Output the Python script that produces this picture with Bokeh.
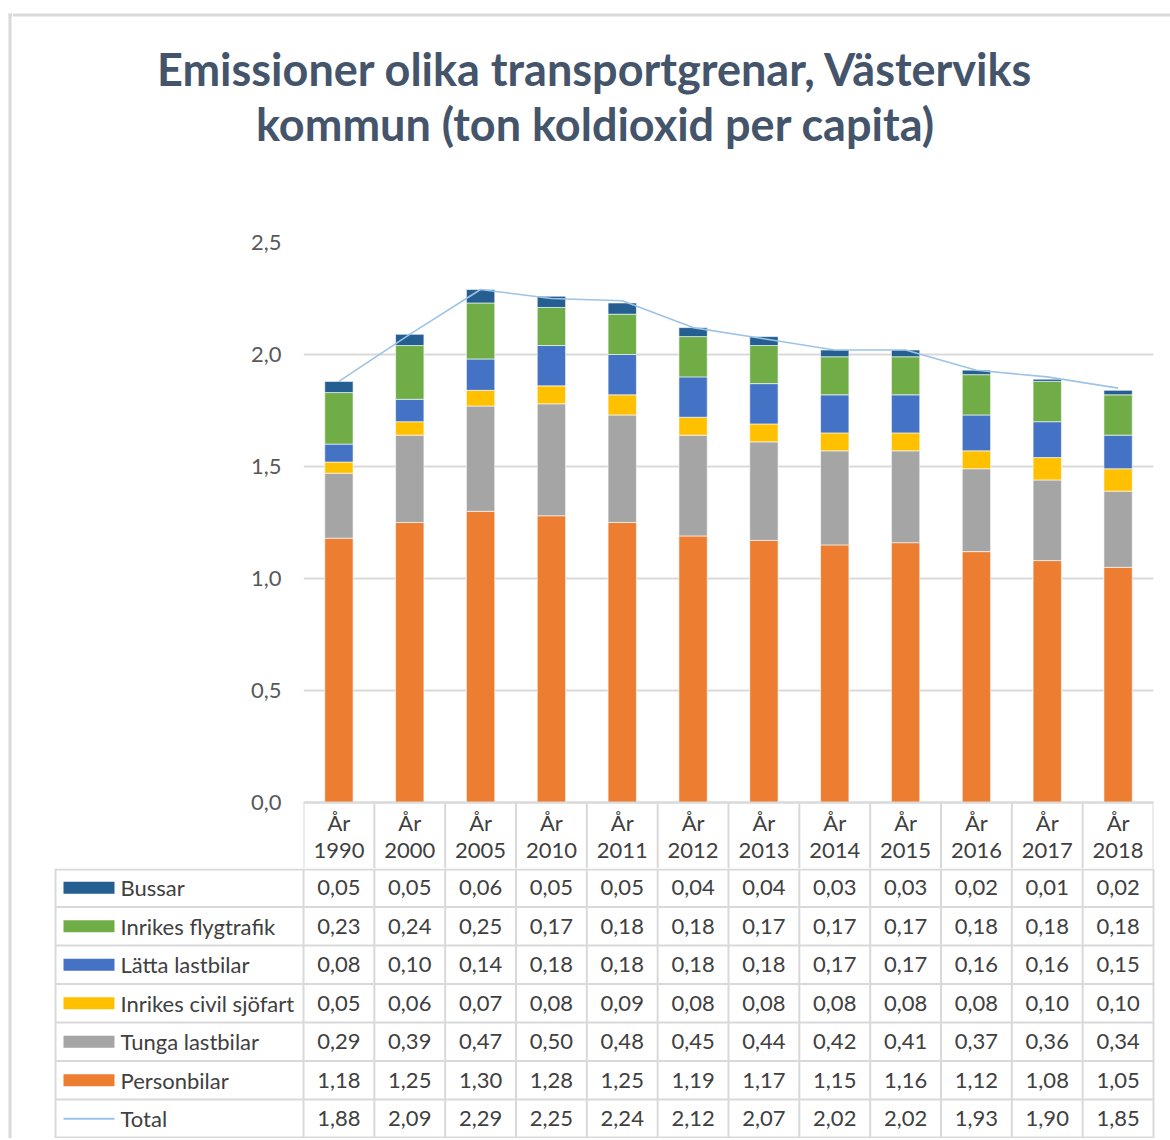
from bokeh.plotting import figure
from bokeh.models import ColumnDataSource, Range1d, FixedTicker, CustomJSTickFormatter
from bokeh.layouts import column, row
from bokeh.embed import file_html
from bokeh.resources import INLINE
from bokeh.core.properties import value

# ---------------- data ----------------
years = ["1990", "2000", "2005", "2010", "2011", "2012", "2013", "2014", "2015", "2016", "2017", "2018"]
bussar = [0.05, 0.05, 0.06, 0.05, 0.05, 0.04, 0.04, 0.03, 0.03, 0.02, 0.01, 0.02]
flygtrafik = [0.23, 0.24, 0.25, 0.17, 0.18, 0.18, 0.17, 0.17, 0.17, 0.18, 0.18, 0.18]
latta_lastbilar = [0.08, 0.10, 0.14, 0.18, 0.18, 0.18, 0.18, 0.17, 0.17, 0.16, 0.16, 0.15]
sjofart = [0.05, 0.06, 0.07, 0.08, 0.09, 0.08, 0.08, 0.08, 0.08, 0.08, 0.10, 0.10]
tunga_lastbilar = [0.29, 0.39, 0.47, 0.50, 0.48, 0.45, 0.44, 0.42, 0.41, 0.37, 0.36, 0.34]
personbilar = [1.18, 1.25, 1.30, 1.28, 1.25, 1.19, 1.17, 1.15, 1.16, 1.12, 1.08, 1.05]
total = [1.88, 2.09, 2.29, 2.25, 2.24, 2.12, 2.07, 2.02, 2.02, 1.93, 1.90, 1.85]

stack_names = ["Personbilar", "Tunga lastbilar", "Inrikes civil sjöfart", "Lätta lastbilar",
               "Inrikes flygtrafik", "Bussar"]
stack_values = [personbilar, tunga_lastbilar, sjofart, latta_lastbilar, flygtrafik, bussar]
stack_colors = ["#ed7d31", "#a5a5a5", "#ffc000", "#4472c4", "#70ad47", "#255e91"]
total_name = "Total"
total_color = "#9dc3e6"
y_ticks = [0.0, 0.5, 1.0, 1.5, 2.0, 2.5]
y_max = 2.5
title_lines = ["Emissioner olika transportgrenar, Västerviks", "kommun (ton koldioxid per capita)"]

# ---------------- layout constants (page px) ----------------
FONT = "Lato"
PAGE_W = 1170
STRIP = 12                  # left strip carrying the chart-area border
W = PAGE_W - STRIP          # width of the main column
PLOT_L = 303                # page x of plot area left
PLOT_R = 1153               # page x of plot area right
n = len(years)
ppu = (PLOT_R - PLOT_L) / n
xs = [i + 0.5 for i in range(n)]
grid_col = "#d9d9d9"
border_col = "#d9d9d9"
text_col = "#404040"

H1 = 226                    # title block
TOP = 16
PLOT_H = 560
HEADER = 66
H2 = TOP + PLOT_H + HEADER  # chart + header row
ROW = 38.5
NROWS = 7
H3 = 270
TOTAL_H = H1 + H2 + H3


def cx(px):
    return (px - PLOT_L) / ppu


# ---------------- left border strip ----------------
ps = figure(width=STRIP, height=TOTAL_H, x_range=Range1d(0, STRIP), y_range=Range1d(TOTAL_H, 0),
            x_axis_location=None, y_axis_location=None, toolbar_location=None,
            output_backend="svg", min_border=0, outline_line_color=None, frame_align=False)
ps.grid.visible = False
ps.segment(x0=[9.5], y0=[13], x1=[9.5], y1=[TOTAL_H], line_color=border_col, line_width=3)
ps.segment(x0=[8], y0=[14.5], x1=[STRIP], y1=[14.5], line_color=border_col, line_width=3)

# ---------------- title ----------------
pt = figure(width=W, height=H1, x_range=Range1d(STRIP, PAGE_W), y_range=Range1d(H1, 0),
            x_axis_location=None, y_axis_location=None, toolbar_location=None,
            output_backend="svg", min_border=0, outline_line_color=None, frame_align=False)
pt.grid.visible = False
pt.segment(x0=[STRIP], y0=[14.5], x1=[PAGE_W], y1=[14.5], line_color=border_col, line_width=3)
pt.text(x=[595, 595], y=[68, 123], text=title_lines, text_align="center",
        text_baseline="middle", text_font=value(FONT), text_font_style="bold",
        text_font_size="45px", text_color="#44546a")

# ---------------- chart (+ table header) ----------------
upp = y_max / PLOT_H
p = figure(width=W, height=H2, x_range=Range1d(0, n), y_range=Range1d(-HEADER * upp, y_max),
           x_axis_location=None, toolbar_location=None, output_backend="svg",
           min_border_left=PLOT_L - STRIP, min_border_right=PAGE_W - PLOT_R,
           min_border_top=TOP, min_border_bottom=0, outline_line_color=None, frame_align=False)
p.yaxis.ticker = FixedTicker(ticks=y_ticks)
p.yaxis.formatter = CustomJSTickFormatter(code="return tick.toFixed(1).replace('.', ',');")
p.yaxis.axis_line_color = None
p.yaxis.major_tick_line_color = None
p.yaxis.minor_tick_line_color = None
p.yaxis.major_label_text_font = FONT
p.yaxis.major_label_text_font_size = "22px"
p.yaxis.major_label_text_color = "#595959"
p.yaxis.major_label_standoff = 16
p.xgrid.visible = False
p.ygrid.grid_line_color = grid_col
p.ygrid.grid_line_width = 2

data = dict(x=xs)
for name, vals in zip(stack_names, stack_values):
    data[name] = vals
src = ColumnDataSource(data)
p.vbar_stack(stack_names, x="x", width=0.4, color=stack_colors, source=src,
             line_color="white", line_width=0.6)
p.line(xs, total, color=total_color, line_width=1.6)

# header cells of the data table
p.segment(x0=list(range(n + 1)), y0=[0] * (n + 1), x1=list(range(n + 1)),
          y1=[-HEADER * upp] * (n + 1), line_color=grid_col, line_width=2)
p.segment(x0=[0], y0=[0], x1=[n], y1=[0], line_color=grid_col, line_width=2)
htxt = dict(text_font=value(FONT), text_font_size="22px", text_color=text_col,
            text_align="center", text_baseline="middle")
p.text(x=xs, y=[-20 * upp] * n, text=["År"] * n, **htxt)
p.text(x=xs, y=[-48 * upp] * n, text=years, **htxt)

# ---------------- data table rows ----------------
pb = figure(width=W, height=H3, x_range=Range1d(cx(STRIP), cx(PAGE_W)), y_range=Range1d(H3, 0),
            x_axis_location=None, y_axis_location=None, toolbar_location=None,
            output_backend="svg", min_border=0, outline_line_color=None, frame_align=False)
pb.grid.visible = False
left_x = cx(55)
pb.segment(x0=list(range(n + 1)), y0=[0] * (n + 1), x1=list(range(n + 1)), y1=[H3] * (n + 1),
           line_color=grid_col, line_width=2)
pb.segment(x0=[left_x], y0=[0], x1=[left_x], y1=[H3], line_color=grid_col, line_width=2)
rows_y = [1] + [ROW * k for k in range(1, NROWS)] + [H3 - 1]
pb.segment(x0=[left_x] * len(rows_y), y0=rows_y, x1=[n] * len(rows_y), y1=rows_y,
           line_color=grid_col, line_width=2)

txt = dict(text_font=value(FONT), text_font_size="22px", text_color=text_col,
           text_align="center", text_baseline="middle")
table_names = list(reversed(stack_names)) + [total_name]
table_values = list(reversed(stack_values)) + [total]
table_colors = list(reversed(stack_colors))
sw_cx = cx((63 + 114) / 2)
sw_x0 = cx(63)
sw_x1 = cx(114)
label_x = cx(120)
for k, (name, vals) in enumerate(zip(table_names, table_values)):
    yc = ROW * (k + 0.5)
    pb.text(x=xs, y=[yc] * n, text=[f"{v:.2f}".replace(".", ",") for v in vals], **txt)
    pb.text(x=[label_x], y=[yc], text=[name], text_font=value(FONT), text_font_size="22px",
            text_color=text_col, text_align="left", text_baseline="middle")
    if k < len(table_colors):
        pb.rect(x=[sw_cx], y=[yc], width=51, height=12, width_units="screen",
                height_units="screen", fill_color=table_colors[k], line_color=None)
    else:
        pb.segment(x0=[sw_x0], y0=[yc], x1=[sw_x1], y1=[yc], line_color=total_color, line_width=2)

layout = row(ps, column(pt, p, pb, spacing=0), spacing=0)
open("out.html", "w").write(file_html(layout, INLINE))
